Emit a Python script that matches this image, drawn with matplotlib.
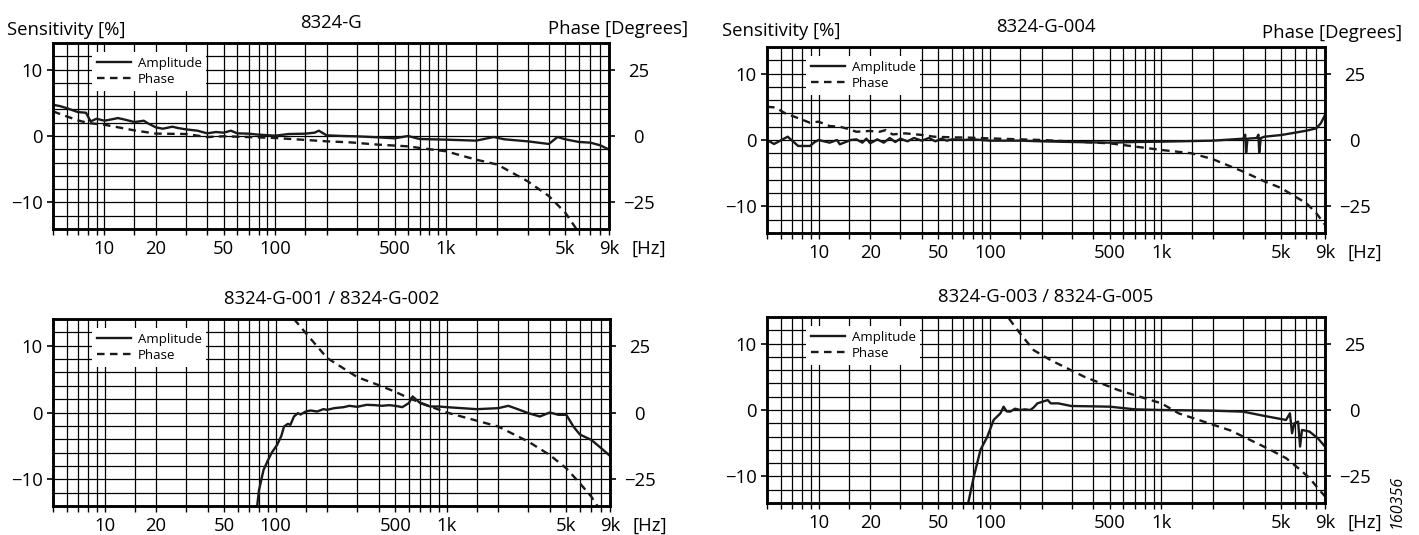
import matplotlib
matplotlib.use('Agg')
import matplotlib.pyplot as plt
from matplotlib.lines import Line2D
from matplotlib.ticker import NullFormatter

plt.rcParams['font.family'] = ['Open Sans', 'DejaVu Sans']

# 8324-G
G_AMP_F = [5, 5.5, 6, 7, 7.8, 8.3, 9, 10, 11, 12, 13, 15, 16, 17, 18, 20, 22, 25, 27, 30, 35, 40,
           45, 50, 55, 60, 70, 80, 100, 120, 150, 170, 180, 200, 250, 300, 400, 500, 600, 700,
           1000, 1500, 1900, 2200, 3000, 4000, 4500, 5000, 6000, 7000, 8000, 9000]
G_AMP = [4.7, 4.5, 4.2, 3.6, 3.5, 2.2, 2.6, 2.3, 2.5, 2.7, 2.5, 2.1, 2.2, 2.3, 1.9, 1.3, 1.1, 1.4,
         1.2, 1.0, 0.8, 0.4, 0.6, 0.5, 0.8, 0.4, 0.35, 0.2, 0.05, 0.3, 0.35, 0.5, 0.8, 0.1, 0.0,
         -0.05, -0.2, -0.35, 0.0, -0.45, -0.55, -0.7, -0.15, -0.5, -0.8, -1.2, -0.15, -0.5, -0.9,
         -1.0, -1.4, -2.05]
G_PH_F = [5, 6, 7, 8, 10, 15, 20, 30, 40, 50, 70, 100, 200, 276, 400, 600, 700, 1000, 1500, 2000,
          3000, 4000, 5000, 5800]
G_PH = [9.25, 7.4, 5.9, 4.9, 4.25, 2.1, 0.9, 0.75, -0.4, -0.1, -0.4, -0.75, -2.0, -2.4, -3.25,
        -3.9, -4.5, -5.75, -8.9, -10.75, -17.0, -22.6, -28.9, -35.0]

# 8324-G-004
G004_AMP_F = [5, 5.5, 6.6, 7.6, 8.9, 9.5, 10, 11.6, 12.8, 13.3, 15.4, 16.6, 18, 19, 20, 22, 24,
              26, 28, 30, 33, 36, 40, 44, 48, 52, 56, 60, 70, 80, 100, 150, 200, 300, 500, 700,
              1000, 2000, 3000, 3080, 3120, 3180, 3600, 3680, 3720, 3800, 4000, 5000, 6000, 7000,
              8000, 8500, 9000]
G004_AMP = [0, -0.6, 0.5, -0.9, -0.9, -0.3, 0, -0.4, 0, -0.65, 0, 0.1, -0.4, 0.2, -0.5, 0.1,
            -0.4, 0.3, -0.3, 0.2, -0.2, 0.3, -0.1, 0.3, -0.2, 0.2, -0.1, 0.1, 0.0, 0.1, -0.1,
            -0.1, -0.2, -0.3, -0.4, -0.3, -0.25, -0.1, 0.2, 0.8, -1.9, 0.2, 0.3, 0.8, -1.9, 0.3,
            0.5, 0.75, 1.1, 1.4, 1.75, 2.5, 3.75]
G004_PH_F = [5, 5.6, 6.4, 7.7, 8.9, 10, 11.6, 13.3, 15.2, 16.6, 19.8, 22.7, 24.7, 27, 32, 40,
             47, 60, 75, 100, 200, 500, 1000, 1500, 2000, 3000, 4000, 5000, 6000, 7000, 8000,
             9000]
G004_PH = [12.5, 12.25, 10, 8.1, 6.5, 6.9, 5.25, 5.0, 4.0, 3.1, 3.4, 3.1, 3.75, 2.1, 2.5, 1.9,
           1.25, 1.0, 0.9, 0.6, 0.0, -1.25, -3.75, -5.0, -7.25, -11.9, -15.6, -18.1, -21.25,
           -23.75, -27.5, -31.9]

# 8324-G-001 / 8324-G-002
G001_AMP_F = [78, 80, 85, 90, 95, 102, 108, 112, 118, 122, 128, 135, 140, 150, 160, 175, 190, 200,
              220, 250, 270, 300, 340, 380, 420, 460, 500, 550, 600, 632, 700, 800, 900, 1000,
              1500, 2000, 2290, 2600, 3000, 3500, 4000, 4500, 5000, 5500, 6000, 7000, 8000, 9000]
G001_AMP = [-14, -11.6, -8.6, -7.2, -6.0, -4.85, -3.5, -2.1, -1.7, -1.85, -0.6, -0.1, -0.3, 0.15,
            0.3, 0.15, 0.5, 0.4, 0.65, 0.8, 1.0, 0.85, 1.15, 1.1, 1.0, 1.1, 1.0, 0.8, 1.4, 2.4,
            1.4, 0.9, 0.9, 0.8, 0.5, 0.65, 1.0, 0.5, -0.1, -0.6, 0.0, -0.35, -0.35, -2.1, -3.3,
            -4.1, -5.35, -6.5]
G001_PH_F = [128, 150, 200, 300, 400, 500, 600, 800, 1000, 2000, 3000, 4000, 5000, 6000, 7000, 7600]
G001_PH = [35, 29.75, 20.4, 13.25, 10.25, 7.75, 5.4, 2.25, 0, -5.25, -10.9, -15.9, -20.9, -26.5,
           -31.5, -35]

# 8324-G-003 / 8324-G-005
G003_AMP_F = [74.6, 80.5, 88, 96.5, 105, 115, 120, 125, 131, 140, 150, 160, 172, 180, 189, 200,
              217, 226, 250, 298, 400, 500, 700, 1000, 2000, 3000, 4000, 5330, 5620, 5780, 5970,
              6270, 6440, 6610, 7310, 8170, 9000]
G003_AMP = [-14, -10, -6, -4, -1.5, -0.5, 0.5, -0.2, -0.25, 0.2, 0, 0.1, 0, 0.4, 1.0, 1.2, 1.5,
            1.0, 1.0, 0.6, 0.55, 0.5, 0.1, 0, -0.1, -0.25, -0.9, -1.5, -0.5, -3.5, -2.0, -1.75,
            -5.5, -3.0, -3.25, -4.25, -5.5]
G003_PH_F = [129, 150, 180, 226, 355, 560, 1000, 1260, 1650, 2540, 4250, 5330, 6380, 7310, 8170, 9000]
G003_PH = [34.4, 28.75, 22.5, 18.75, 12.5, 7.5, 2.5, -1.25, -3.75, -7.75, -14.75, -18.1, -22.25,
           -25.6, -29.4, -32.5]

TITLES = ['8324-G', '8324-G-004', '8324-G-001 / 8324-G-002', '8324-G-003 / 8324-G-005']
X_MAJOR = [10, 20, 50, 100, 500, 1000, 5000, 9000]
X_LABELS = ['10', '20', '50', '100', '500', '1k', '5k', '9k']
X_MINOR = [5, 6, 7, 8, 9, 15, 30, 40, 60, 70, 80, 90, 150, 200, 300, 400, 600, 700, 800, 900,
           1500, 2000, 3000, 4000, 6000, 7000, 8000]

panels = [
    (TITLES[0], G_AMP_F, G_AMP, G_PH_F, G_PH, [53, 43, 609, 229]),
    (TITLES[1], G004_AMP_F, G004_AMP, G004_PH_F, G004_PH, [767, 47, 1325, 233]),
    (TITLES[2], G001_AMP_F, G001_AMP, G001_PH_F, G001_PH, [53, 319, 610, 506]),
    (TITLES[3], G003_AMP_F, G003_AMP, G003_PH_F, G003_PH, [767, 317, 1325, 503]),
]

FS = 13.3
DASH = (3.2, 2.3)
W, H = 1419, 535
fig = plt.figure(figsize=(W / 100, H / 100), dpi=100)

for title, af, a, pf, p, box in panels:
    x0, y0, x1, y1 = box
    ax = fig.add_axes([x0 / W, 1 - y1 / H, (x1 - x0) / W, (y1 - y0) / H])
    ax.set_xscale('log')
    ax.set_xlim(5, 9000)
    ax.set_ylim(-14, 14)
    ax.set_xticks(X_MAJOR)
    ax.set_xticklabels(X_LABELS)
    ax.set_xticks(X_MINOR, minor=True)
    ax.xaxis.set_minor_formatter(NullFormatter())
    ax.set_yticks([-10, 0, 10])
    ax.set_yticklabels(['\u221210', '0', '10'])
    ax.set_yticks(range(-12, 13, 2), minor=True)
    ax.grid(True, which='both', color='black', lw=0.9)
    ax.tick_params(axis='x', which='both', direction='out', length=4, width=1, pad=4,
                   labelsize=FS)
    ax.tick_params(axis='y', which='major', direction='out', length=4.5, width=1.2, pad=3,
                   labelsize=FS)
    ax.tick_params(axis='y', which='minor', length=0)
    for s in ax.spines.values():
        s.set_linewidth(1.8)
    ax.plot(af, a, color='#1a1a1a', lw=1.7)

    ax2 = ax.twinx()
    ax2.set_ylim(-35, 35)
    ax2.set_yticks([-25, 0, 25])
    ax2.set_yticklabels(['\u221225', '0', '25'], ha='center')
    ax2.tick_params(axis='y', direction='out', length=4.5, width=1.2, pad=17, labelsize=FS)
    for s in ax2.spines.values():
        s.set_linewidth(1.8)
    ax2.plot(pf, p, color='#1a1a1a', lw=1.7, dashes=DASH)

    handles = [Line2D([], [], color='#1a1a1a', lw=1.7),
               Line2D([], [], color='#1a1a1a', lw=1.7, dashes=DASH)]
    ax2.legend(handles, ['Amplitude', 'Phase'], loc='upper left',
               bbox_to_anchor=(39 / (x1 - x0), 1 - 9 / (y1 - y0)), fontsize=9.5,
               frameon=True, fancybox=False, framealpha=1, edgecolor='none',
               facecolor='white', borderpad=0.35, borderaxespad=0, handlelength=2.6,
               handletextpad=0.5, labelspacing=0.25)
    ax.set_title(title, fontsize=FS, pad=11)
    ax.annotate('[Hz]', xy=(1, 0), xycoords='axes fraction', xytext=(16, -7.5),
                textcoords='offset points', ha='left', va='top', fontsize=FS)

# side labels
fig.text(7 / W, 1 - 30 / H, 'Sensitivity [%]', fontsize=FS, va='center', ha='left')
fig.text(688 / W, 1 - 29 / H, 'Phase [Degrees]', fontsize=FS, va='center', ha='right')
fig.text(722 / W, 1 - 31 / H, 'Sensitivity [%]', fontsize=FS, va='center', ha='left')
fig.text(1402 / W, 1 - 33 / H, 'Phase [Degrees]', fontsize=FS, va='center', ha='right')
fig.text(1397 / W, 1 - 501 / H, '160356', fontsize=11.5, rotation=90, style='italic',
         va='center', ha='center')

fig.savefig('out.png', dpi=100)
